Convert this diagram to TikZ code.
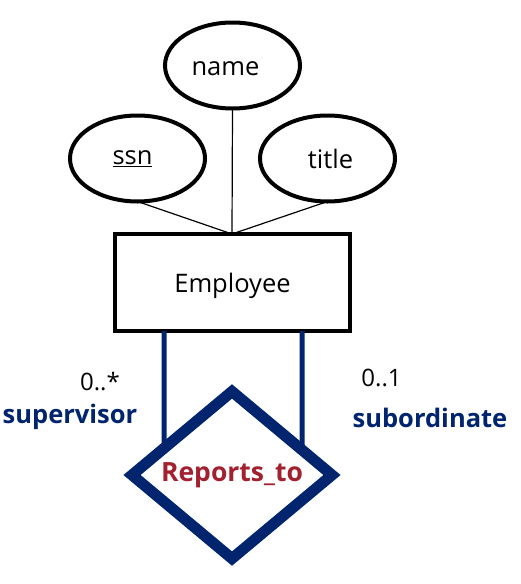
\documentclass[tikz,border=0pt]{standalone}
\usepackage{fontspec}
\setmainfont{Open Sans}
\usetikzlibrary{shapes.geometric,calc}
\definecolor{navy}{RGB}{0,36,110}
\definecolor{relred}{RGB}{163,32,46}
\begin{document}
\begin{tikzpicture}[x=1pt,y=-1pt,
  attr/.style={draw,ellipse,line width=4pt,minimum width=135pt,minimum height=86pt,inner sep=0pt,outer sep=0pt,font=\fontsize{25.5}{30}\selectfont},
  entity/.style={draw,rectangle,line width=4pt,minimum width=235pt,minimum height=97pt,inner sep=0pt,outer sep=0pt,font=\fontsize{25.5}{30}\selectfont},
  rel/.style={draw=navy,diamond,line width=11pt,minimum width=200pt,minimum height=164pt,inner sep=0pt,outer sep=0pt,text=relred,font=\bfseries\fontsize{26.5}{30}\selectfont},
  card/.style={anchor=base,inner sep=0pt,font=\fontsize{24}{28}\selectfont},
  role/.style={anchor=base,inner sep=0pt,text=navy,font=\bfseries\fontsize{25.5}{28}\selectfont},
  attrline/.style={line width=1.2pt},
  relline/.style={draw=navy,line width=5pt}]
\useasboundingbox (0,0) rectangle (521,584);
\node[attr] (name) at (232.5,65.5) {\hspace*{-14pt}\raisebox{-3pt}[\height][\depth]{name}};
\node[attr] (ssn) at (137.5,158.5) {\hspace*{-10pt}\underline{ssn}};
\node[attr] (title) at (327.5,158.5) {\hspace*{6pt}title};
\node[entity] (emp) at (232.5,282.5) {\raisebox{-3pt}[\height][\depth]{Employee}};
\node[rel] (rep) at (232,475) {Reports\_to};
\coordinate (top) at (232,234);
\draw[attrline] (ssn.south) -- (top);
\draw[attrline] (name.south) -- (top);
\draw[attrline] (title.south) -- (top);
\coordinate (lx) at (164,331);
\coordinate (rx) at (302,331);
\draw[relline] (lx) -- ($(rep.north)!0.68!(rep.west)$);
\draw[relline] (rx) -- ($(rep.north)!0.70!(rep.east)$);
\node[card] (c1) at (100,390) {0..*};
\node[role] (r1) at (70,423) {supervisor};
\node[card] (c2) at (381.5,386) {0..1};
\node[role] (r2) at (430,427) {subordinate};
\end{tikzpicture}
\end{document}
